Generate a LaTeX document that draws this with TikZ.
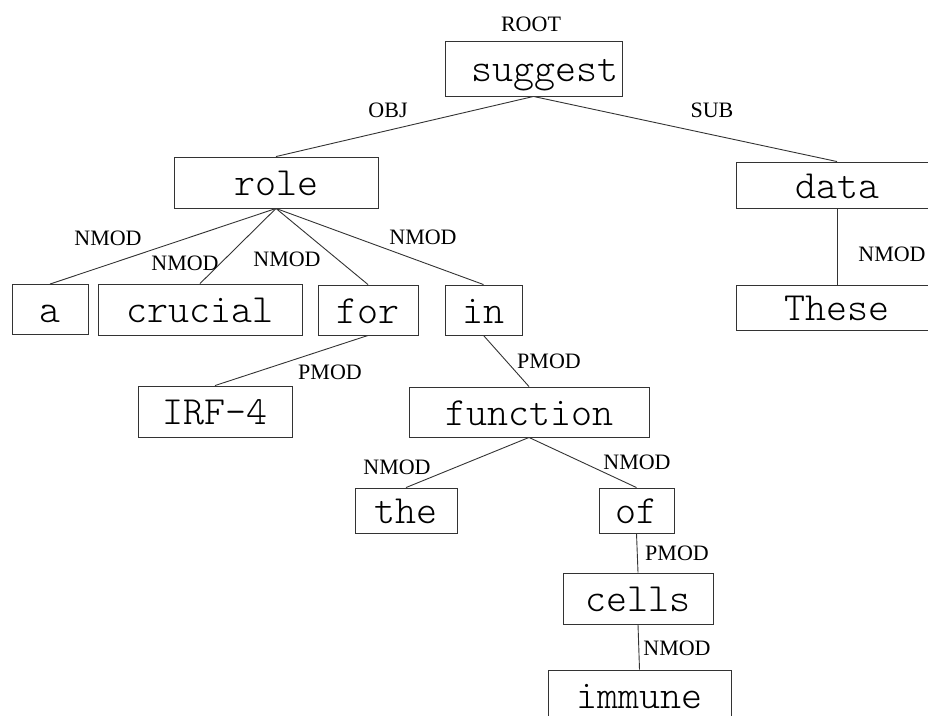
\documentclass[tikz,border=0pt]{standalone}
\usepackage{fontspec}
\setmainfont{Liberation Serif}
\setmonofont{lmmonolt10-regular.otf}
\begin{document}
\begin{tikzpicture}[x=1pt,y=-1pt,
  word/.style={draw=black!80, line width=0.9pt, rectangle, inner sep=0pt,
    font=\ttfamily\fontsize{40}{46}\selectfont, text height=30pt, text depth=4pt},
  rel/.style={font=\fontsize{22}{26}\selectfont, inner sep=0pt},
  link/.style={draw=black!80, line width=0.9pt}]
\useasboundingbox (0,0) rectangle (928,715);
\clip (0,0) rectangle (928,715);

\node[word, minimum width=177pt, minimum height=55pt] (suggest) at (533.5,68.5) {\hspace*{22pt}suggest};
\node[word, minimum width=204pt, minimum height=51pt] (role) at (276,182.5) {role};
\node[word, minimum width=202pt, minimum height=46pt] (data) at (837,185) {data};
\node[word, minimum width=202pt, minimum height=45pt] (these) at (837,307.5) {These};
\node[word, minimum width=76pt, minimum height=50pt] (a) at (50,309.5) {a};
\node[word, minimum width=204pt, minimum height=51pt] (crucial) at (200,309.5) {crucial};
\node[word, minimum width=100pt, minimum height=50pt] (for) at (368,310) {for};
\node[word, minimum width=77pt, minimum height=50pt] (in) at (483.5,310) {in};
\node[word, minimum width=154pt, minimum height=51pt] (irf) at (215,411.5) {IRF-4};
\node[word, minimum width=240pt, minimum height=50pt] (function) at (529,412) {function};
\node[word, minimum width=102pt, minimum height=45pt] (the) at (406,510.5) {the};
\node[word, minimum width=75pt, minimum height=45pt] (of) at (636.5,510.5) {of};
\node[word, minimum width=150pt, minimum height=51pt] (cells) at (638,598.5) {cells};
\node[word, minimum width=183pt, minimum height=50pt] (immune) at (639.5,695) {immune};

\draw[link] (suggest.south) -- (role.north);
\draw[link] (suggest.south) -- (data.north);
\draw[link] (data.south) -- (these.north);
\draw[link] (role.south) -- (a.north);
\draw[link] (role.south) -- (crucial.north);
\draw[link] (role.south) -- (for.north);
\draw[link] (role.south) -- (in.north);
\draw[link] (for.south) -- (irf.north);
\draw[link] (in.south) -- (function.north);
\draw[link] (function.south) -- (the.north);
\draw[link] (function.south) -- (of.north);
\draw[link] (of.south) -- (cells.north);
\draw[link] (cells.south) -- (immune.north);

\node[rel] (lroot) at (531,24) {ROOT};
\node[rel] (lobj) at (388,110) {OBJ};
\node[rel] (lsub) at (712,110) {SUB};
\node[rel] (l1) at (108,238) {NMOD};
\node[rel] (l2) at (185,263) {NMOD};
\node[rel] (l3) at (287,259) {NMOD};
\node[rel] (l4) at (423,237) {NMOD};
\node[rel] (l5) at (892,254) {NMOD};
\node[rel] (l6) at (330,372) {PMOD};
\node[rel] (l7) at (549,361) {PMOD};
\node[rel] (l8) at (397,467) {NMOD};
\node[rel] (l9) at (637,462) {NMOD};
\node[rel] (l10) at (677,553) {PMOD};
\node[rel] (l11) at (677,648) {NMOD};
\end{tikzpicture}
\end{document}
